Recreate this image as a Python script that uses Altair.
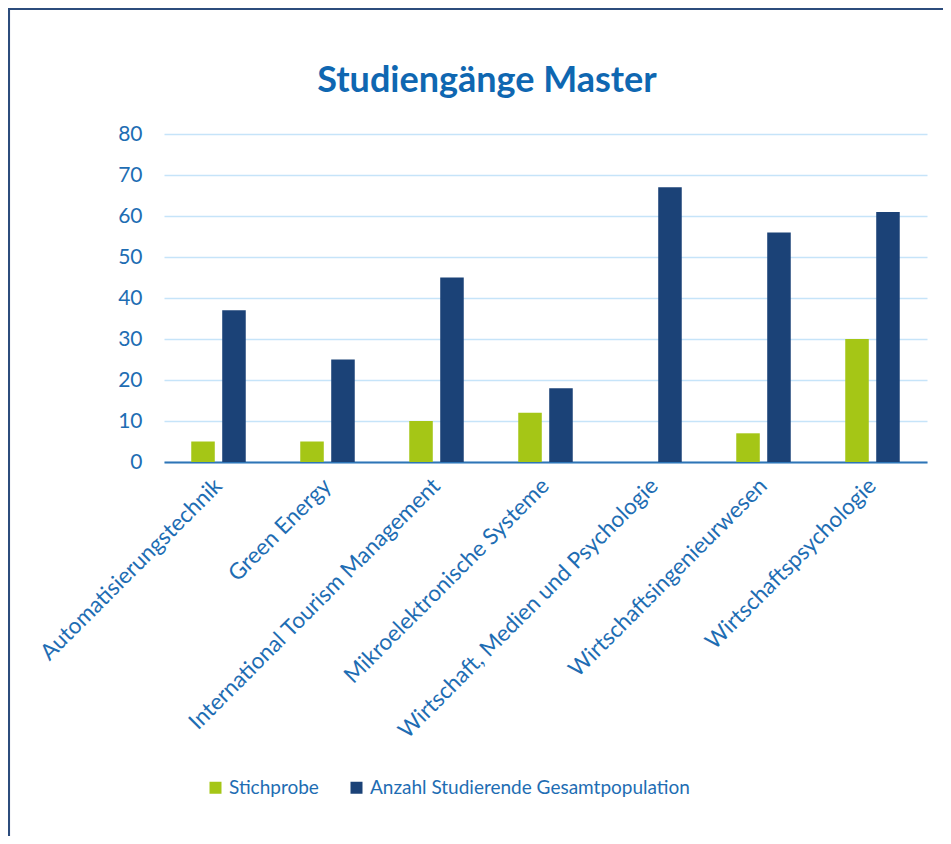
import altair as alt
import pandas as pd

categories = [
    "Automatisierungstechnik",
    "Green Energy",
    "International Tourism Management",
    "Mikroelektronische Systeme",
    "Wirtschaft, Medien und Psychologie",
    "Wirtschaftsingenieurwesen",
    "Wirtschaftspsychologie",
]
stichprobe = [5, 5, 10, 12, None, 7, 30]
gesamt = [37, 25, 45, 18, 67, 56, 61]
series = ["Stichprobe", "Anzahl Studierende Gesamtpopulation"]
colors = ["#a5c616", "#1b4277"]
y_ticks = [0, 10, 20, 30, 40, 50, 60, 70, 80]

rows = []
for c, a, b in zip(categories, stichprobe, gesamt):
    rows.append({"Studiengang": c, "Serie": series[0], "Wert": a})
    rows.append({"Studiengang": c, "Serie": series[1], "Wert": b})
df = pd.DataFrame(rows)

W, H = 763, 328
PL, PT, PR, PB = 156, 126, 16, 374
FONT = "Lato"
LABEL_COLOR = "#1e6db3"

bars = alt.Chart(df).mark_bar().encode(
    x=alt.X("Studiengang:N", sort=categories, title=None,
            scale=alt.Scale(paddingInner=0.5, paddingOuter=0.25),
            axis=alt.Axis(labelAngle=315, labelAlign="right", labelBaseline="middle",
                          labelPadding=20, ticks=False, domain=True,
                          domainColor="#2e75b6", domainWidth=2,
                          labelFont=FONT, labelFontSize=22.5, labelColor=LABEL_COLOR,
                          labelLimit=0, grid=False)),
    xOffset=alt.XOffset("Serie:N", sort=series,
                        scale=alt.Scale(domain=series, paddingInner=0.24, paddingOuter=0)),
    y=alt.Y("Wert:Q", title=None,
            scale=alt.Scale(domain=[0, 80], nice=False),
            axis=alt.Axis(values=y_ticks, ticks=False, domain=False, grid=True,
                          gridColor="#c6e4f9", gridWidth=1.5,
                          labelFont=FONT, labelFontSize=21, labelColor=LABEL_COLOR,
                          labelPadding=22)),
    color=alt.Color("Serie:N", sort=series,
                    scale=alt.Scale(domain=series, range=colors),
                    legend=alt.Legend(title=None, orient="none", direction="horizontal",
                                      legendX=42, legendY=644, symbolType="square",
                                      symbolSize=144, symbolStrokeWidth=0,
                                      labelFont=FONT, labelFontSize=19,
                                      labelColor=LABEL_COLOR, labelOffset=4,
                                      columnPadding=28, padding=0, labelLimit=0)),
)

one = pd.DataFrame({"t": ["Studiengänge Master"]})

title = alt.Chart(one).mark_text(
    font=FONT, fontSize=36, fontWeight="bold", color="#0f67b1",
    align="center", baseline="alphabetic"
).encode(text="t:N", x=alt.value(487 - 164), y=alt.value(92 - 134))

frame_top = alt.Chart(one).mark_rule(color="#2c4c7c", strokeWidth=2.5).encode(
    x=alt.value(-PL), x2=alt.value(W + PR), y=alt.value(-PT + 0.8))
frame_left = alt.Chart(one).mark_rule(color="#2c4c7c", strokeWidth=2.5).encode(
    x=alt.value(-PL + 0.8), y=alt.value(-PT), y2=alt.value(H + PB))

chart = alt.layer(bars, title, frame_top, frame_left).properties(
    width=W, height=H,
    padding={"left": PL, "top": PT, "right": PR, "bottom": PB},
    autosize=alt.AutoSizeParams(type="none"),
).configure_view(stroke=None)

chart.save("out.html", embed_options={"renderer": "svg", "actions": False})
